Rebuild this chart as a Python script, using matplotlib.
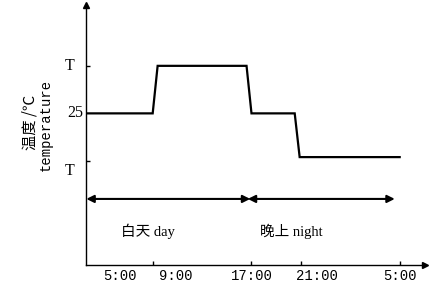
import matplotlib
matplotlib.use("Agg")
import matplotlib.pyplot as plt

# data (hours since 0:00, next day's 5:00 = 29)
times = [3.6, 9.0, 9.4, 16.6, 17.0, 20.5, 20.9, 29.0]
temps = [25, 25, 30, 30, 25, 25, 20.4, 20.4]

xtick_pos = [9, 17, 21, 29]
xlabel_pos = [6.33, 10.86, 17.05, 22.3, 29.0]
xlabel_txt = ["5:00", "9:00", "17:00", "21:00", "5:00"]

ytick_pos = [30, 20]
ylabel_pos = [30, 25, 18.95]
ylabel_txt = ["T", "25", "T"]

day_span = (3.63, 16.9)
night_span = (16.7, 28.6)
span_y = 16.0
span_labels = ["白天 day", "晚上 night"]
span_label_x = [8.6, 20.2]
span_label_y = 12.56

cjk = ["Liberation Serif", "Noto Sans CJK SC", "DejaVu Sans"]
mono = ["Liberation Mono", "DejaVu Sans Mono"]

fig = plt.figure(figsize=(4.43, 2.95), dpi=100)
ax = fig.add_axes([86 / 443, 30 / 295, 339 / 443, 260 / 295])
ax.set_xlim(3.6, 31.05)
ax.set_ylim(9.05, 36.4)

ax.plot(times, temps, color="black", lw=1.6, solid_joinstyle="miter")

for s in ["top", "right"]:
    ax.spines[s].set_visible(False)
for s in ["left", "bottom"]:
    ax.spines[s].set_linewidth(1.0)

# axis arrow heads
ax.plot(1, 0, ">k", ms=4, transform=ax.transAxes, clip_on=False)
ax.plot(0, 1, "^k", ms=4, transform=ax.transAxes, clip_on=False)

ax.set_xticks(xtick_pos)
ax.set_xticklabels([])
ax.set_yticks(ytick_pos)
ax.set_yticklabels([])
ax.tick_params(direction="in", length=3, width=1)

for x, t in zip(xlabel_pos, xlabel_txt):
    ax.text(x, -0.042, t, transform=ax.get_xaxis_transform(), ha="center",
            va="center", fontsize=10, family=mono)

ylab_x = [-0.049, -0.033, -0.049]
for xf, y, t in zip(ylab_x, ylabel_pos, ylabel_txt):
    ax.text(xf, y, t, transform=ax.get_yaxis_transform(), ha="center",
            va="center", fontsize=11.5, family=cjk)

# day / night double arrows
for a, b in [day_span, night_span]:
    ax.annotate("", xy=(b, span_y), xytext=(a, span_y),
                arrowprops=dict(arrowstyle="<|-|>", color="black", lw=1.5,
                                mutation_scale=11, shrinkA=0, shrinkB=0))

for x, t in zip(span_label_x, span_labels):
    ax.text(x, span_label_y, t, ha="center", va="center", fontsize=10.5, family=cjk)

fig.text(0.0677, 0.586, "温度 /℃", rotation=90, ha="center", va="center",
         fontsize=11, family=["Noto Sans CJK SC", "DejaVu Sans"])
fig.text(0.103, 0.576, "temperature", rotation=90, ha="center", va="center",
         fontsize=10, family=mono)

fig.savefig("out.png", dpi=100)
